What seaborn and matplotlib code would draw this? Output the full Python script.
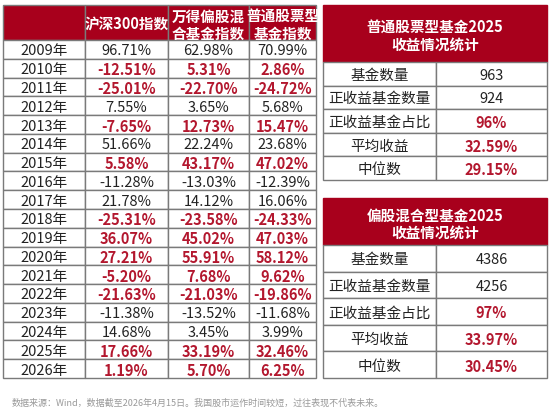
import matplotlib.pyplot as plt
from matplotlib.patches import Rectangle
import seaborn as sns

sns.set_theme(style="white")
plt.rcParams['font.family'] = ['Noto Sans CJK SC', 'DejaVu Sans']

# 左表数据
years = ["2009年", "2010年", "2011年", "2012年", "2013年", "2014年", "2015年", "2016年", "2017年",
         "2018年", "2019年", "2020年", "2021年", "2022年", "2023年", "2024年", "2025年", "2026年"]
hs300 = ["96.71%", "-12.51%", "-25.01%", "7.55%", "-7.65%", "51.66%", "5.58%", "-11.28%", "21.78%",
         "-25.31%", "36.07%", "27.21%", "-5.20%", "-21.63%", "-11.38%", "14.68%", "17.66%", "1.19%"]
mixed_idx = ["62.98%", "5.31%", "-22.70%", "3.65%", "12.73%", "22.24%", "43.17%", "-13.03%", "14.12%",
             "-23.58%", "45.02%", "55.91%", "7.68%", "-21.03%", "-13.52%", "3.45%", "33.19%", "5.70%"]
stock_idx = ["70.99%", "2.86%", "-24.72%", "5.68%", "15.47%", "23.68%", "47.02%", "-12.39%", "16.06%",
             "-24.33%", "47.03%", "58.12%", "9.62%", "-19.86%", "-11.68%", "3.99%", "32.46%", "6.25%"]
highlight_years = ["2010年", "2011年", "2013年", "2015年", "2018年", "2019年", "2020年",
                   "2021年", "2022年", "2025年", "2026年"]
headers = ["", "沪深300指数", "万得偏股混\n合基金指数", "普通股票型\n基金指数"]

# 右表数据
stat_labels = ["基金数量", "正收益基金数量", "正收益基金占比", "平均收益", "中位数"]
stock_stats = ["963", "924", "96%", "32.59%", "29.15%"]
mixed_stats = ["4386", "4256", "97%", "33.97%", "30.45%"]
stat_highlight = [False, False, True, True, True]

RED = "#a8001c"
TXT_RED = "#b3172e"
EDGE = "#7a7a7a"
FS = 10.5

fig = plt.figure(figsize=(5.5, 4.12), dpi=100)
ax = fig.add_axes([0, 0, 1, 1])
ax.set_xlim(0, 550)
ax.set_ylim(412, 0)
ax.axis("off")


def cell(x0, y0, x1, y1, text, face="white", edge=EDGE, color="#222222", bold=False, fs=FS):
    ax.add_patch(Rectangle((x0, y0), x1 - x0, y1 - y0, facecolor=face, edgecolor=edge, lw=1.0))
    ax.text((x0 + x1) / 2, (y0 + y1) / 2 + 0.5, text, ha="center", va="center_baseline",
            color=color, fontweight="bold" if bold else "normal", fontsize=fs, linespacing=1.1)


# 左表
col_x = [3, 85, 168, 249, 316]
for c, h in enumerate(headers):
    cell(col_x[c], 5, col_x[c + 1], 40, h, face=RED, edge=EDGE, color="white", bold=True, fs=10.5)
rh = (378 - 40) / len(years)
for r, row in enumerate(zip(years, hs300, mixed_idx, stock_idx)):
    y0 = 40 + r * rh
    hl = row[0] in highlight_years
    for c, v in enumerate(row):
        red = hl and c > 0
        cell(col_x[c], y0, col_x[c + 1], y0 + rh, v,
             color=TXT_RED if red else "#222222", bold=red)


def stat_table(title, values, y0, yh, y1):
    cell(323, y0, 547, yh, title, face=RED, edge=RED, color="white", bold=True, fs=10.5)
    h = (y1 - yh) / len(values)
    for i, (lab, v) in enumerate(zip(stat_labels, values)):
        ya = yh + i * h
        cell(323, ya, 436, ya + h, lab)
        cell(436, ya, 547, ya + h, v, color=TXT_RED if stat_highlight[i] else "#222222",
             bold=stat_highlight[i])


stat_table("普通股票型基金2025\n收益情况统计", stock_stats, 5, 62, 180)
stat_table("偏股混合型基金2025\n收益情况统计", mixed_stats, 198, 245, 378)

ax.text(12, 403, "数据来源：Wind，数据截至2026年4月15日。我国股市运作时间较短，过往表现不代表未来。",
        fontsize=6.5, color="#999999", va="center", ha="left")

fig.savefig("out.png", dpi=100)
